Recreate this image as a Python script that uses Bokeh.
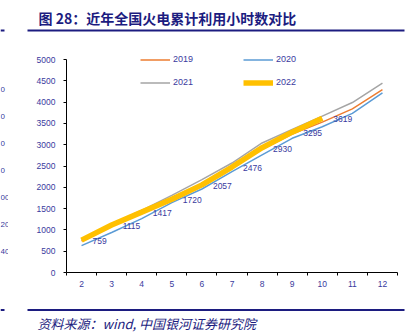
from bokeh.plotting import figure
from bokeh.models import Range1d, FixedTicker, Legend, LegendItem, ColumnDataSource
from bokeh.layouts import column, row
from bokeh.core.properties import value
from bokeh.embed import file_html
from bokeh.resources import INLINE

# ---- data ----
months = [2, 3, 4, 5, 6, 7, 8, 9, 10, 11, 12]
hours_2019 = [740, 1100, 1420, 1720, 2070, 2480, 2890, 3250, 3530, 3840, 4293]
hours_2020 = [630, 940, 1265, 1640, 1960, 2370, 2760, 3150, 3420, 3735, 4216]
hours_2021 = [775, 1135, 1460, 1810, 2180, 2570, 3040, 3360, 3670, 3990, 4448]
months_2022 = [2, 3, 4, 5, 6, 7, 8, 9, 10]
hours_2022 = [759, 1115, 1417, 1720, 2057, 2476, 2930, 3295, 3619]
y_ticks = [0, 500, 1000, 1500, 2000, 2500, 3000, 3500, 4000, 4500, 5000]
series_names = ["2019", "2020", "2021", "2022"]
title_text = "图 28：近年全国火电累计利用小时数对比"
source_text = "资料来源：wind, 中国银河证券研究院"
edge_fragments = ["0", "0", "0", "0", "00", "20", "40"]  # cut-off labels of the neighbouring chart

C_ORANGE = "#ED7D31"
C_BLUE = "#5B9BD5"
C_GRAY = "#A5A5A5"
C_YELLOW = "#FFC000"
C_TEXT = "#3a3a9e"
C_NAVY = "#1c1c80"
FONT = "Liberation Sans"
CJK = "Noto Sans CJK SC"

W, H = 416, 335
HEAD_H, FOOT_H = 38, 35
MID_H = H - HEAD_H - FOOT_H
STRIP_W = 8
MAIN_W = W - STRIP_W
# frame edges in page pixels
FL, FR, FB = 66, 397, 272
Y5000_PX = 59          # page y of the 5000 line
FT = 46                # frame top (room for the legend)
Y_TOP = y_ticks[-1] * (FB - FT) / (FB - Y5000_PX)


def blank(w, h):
    f = figure(width=w, height=h, output_backend="svg", toolbar_location=None,
               x_range=Range1d(0, w), y_range=Range1d(h, 0),
               x_axis_location=None, y_axis_location=None,
               min_border=0, min_border_left=0, min_border_right=0,
               min_border_top=0, min_border_bottom=0)
    f.outline_line_color = None
    f.xgrid.visible = False
    f.ygrid.visible = False
    f.background_fill_color = "white"
    f.border_fill_color = "white"
    return f


# ---- header ----
head = blank(W, HEAD_H)
head.text(x=[38], y=[17], text=[title_text], text_font=value(CJK), text_font_size="14px",
          text_font_style="bold", text_color=C_NAVY, text_align="left", text_baseline="middle")
head.segment(x0=[27, 0], y0=[30, 30], x1=[404, 4], y1=[30, 30], line_color=C_NAVY, line_width=2.2)

# ---- footer ----
foot = blank(W, FOOT_H)
foot.segment(x0=[27, 0], y0=[9.5, 9.5], x1=[404, 4], y1=[9.5, 9.5], line_color=C_NAVY, line_width=2.2)
foot.text(x=[37], y=[23], text=[source_text], text_font=value(CJK), text_font_size="13px",
          text_font_style="italic", text_color=C_NAVY, text_align="left", text_baseline="middle")

# ---- left strip with neighbouring fragments ----
strip = blank(STRIP_W, MID_H)
frag_y = [88, 119, 150, 182, 213, 244, 276]
strip.text(x=[0] * len(edge_fragments), y=[v - HEAD_H for v in frag_y], text=edge_fragments,
           text_font=value(FONT), text_font_size="8px", text_color=C_TEXT,
           text_align="left", text_baseline="middle")

# ---- main chart ----
p = figure(width=MAIN_W, height=MID_H, output_backend="svg", toolbar_location=None,
           x_range=Range1d(1.5, 12.5), y_range=Range1d(0, Y_TOP),
           min_border_left=FL - STRIP_W, min_border_right=W - FR,
           min_border_top=FT - HEAD_H, min_border_bottom=HEAD_H + MID_H - FB)
p.outline_line_color = None
p.xgrid.visible = False
p.ygrid.visible = False
p.background_fill_color = "white"
p.border_fill_color = "white"

xa = p.xaxis[0]
xa.ticker = FixedTicker(ticks=months, minor_ticks=[m - 0.5 for m in months] + [months[-1] + 0.5])
xa.major_tick_line_color = None
xa.major_tick_out = 0
xa.major_tick_in = 0
xa.minor_tick_out = 3
xa.minor_tick_in = 0
xa.minor_tick_line_color = "black"
xa.axis_line_color = "black"
xa.major_label_standoff = 5
xa.major_label_text_font = FONT
xa.major_label_text_font_size = "8.5px"
xa.major_label_text_color = C_TEXT

ya = p.yaxis[0]
ya.ticker = FixedTicker(ticks=y_ticks, minor_ticks=[])
ya.bounds = (y_ticks[0], y_ticks[-1])
ya.major_tick_out = 3
ya.major_tick_in = 0
ya.major_tick_line_color = "black"
ya.axis_line_color = "black"
ya.major_label_standoff = 8
ya.major_label_text_font = FONT
ya.major_label_text_font_size = "8.5px"
ya.major_label_text_color = C_TEXT

r19 = p.line(months, hours_2019, line_color=C_ORANGE, line_width=1.5)
r20 = p.line(months, hours_2020, line_color=C_BLUE, line_width=1.5)
r21 = p.line(months, hours_2021, line_color=C_GRAY, line_width=1.5)
r22 = p.line(months_2022, hours_2022, line_color=C_YELLOW, line_width=5.5)

src = ColumnDataSource(dict(x=months_2022, y=hours_2022, t=[str(v) for v in hours_2022]))
p.text(x="x", y="y", text="t", source=src, x_offset=11, y_offset=1,
       text_align="left", text_baseline="middle", text_color=C_TEXT,
       text_font=value(FONT), text_font_size="8.5px")

LEG_LEFT, LEG_BOTTOM = 140, 88.5   # page pixels
legend = Legend(items=[LegendItem(label=n, renderers=[r]) for n, r in
                       zip(series_names, [r19, r20, r21, r22])],
                orientation="horizontal", ncols=2,
                location=(LEG_LEFT - FL, FB - LEG_BOTTOM), padding=0, margin=0, spacing=10,
                glyph_width=30, glyph_height=13, label_height=13, label_width=60,
                label_standoff=3, border_line_color=None, background_fill_alpha=0,
                label_text_font=FONT, label_text_font_size="9px",
                label_text_color=C_TEXT)
p.add_layout(legend, "center")

layout = column(head, row(strip, p, spacing=0), foot, spacing=0)
open("out.html", "w").write(file_html(layout, INLINE))
